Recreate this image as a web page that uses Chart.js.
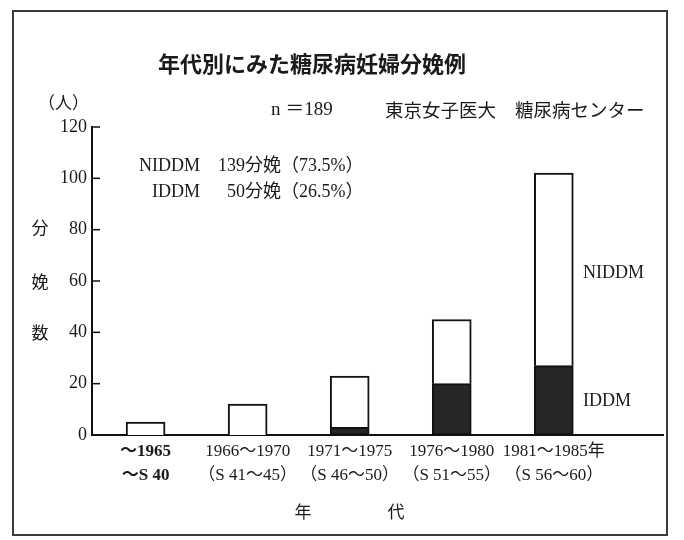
<!DOCTYPE html>
<html><head><meta charset="utf-8">
<script src="https://cdn.jsdelivr.net/npm/chart.js@4.4.0/dist/chart.umd.min.js"></script>
<style>html,body{margin:0;padding:0;background:#fff}#wrap{width:684px;height:540px;position:relative}</style>
</head><body><div id="wrap"><canvas id="c" width="684" height="540"></canvas></div>
<script>
// ---- data ----
const categories = ['～1965', '1966～1970', '1971～1975', '1976～1980', '1981～1985年'];
const eraLabels = ['～S 40', '（S 41～45）', '（S 46～50）', '（S 51～55）', '（S 56～60）'];
const iddm = [0, 0, 3, 20, 27];
const niddm = [5, 12, 20, 25, 75];
const yTickValues = [0, 20, 40, 60, 80, 100, 120];

const SERIF = "'Liberation Serif','Noto Sans CJK JP',serif";
const CJK = "'Noto Sans CJK JP',sans-serif";
const INK = '#1a1a1a';

const deco = {
  id: 'deco',
  beforeDraw(chart) {
    const c = chart.ctx;
    c.save();
    c.fillStyle = '#fff';
    c.fillRect(0, 0, chart.width, chart.height);
    c.strokeStyle = '#3a3a3a';
    c.lineWidth = 2;
    c.strokeRect(13, 11, 654, 524);
    c.restore();
  },
  afterDraw(chart) {
    const c = chart.ctx, ys = chart.scales.y;
    c.save();
    c.strokeStyle = '#111';
    c.lineWidth = 1.5;
    yTickValues.forEach(v => {
      if (v === 0) return;
      const py = ys.getPixelForValue(v);
      c.beginPath(); c.moveTo(ys.right, py); c.lineTo(ys.right + 8, py); c.stroke();
    });
    c.fillStyle = INK;
    c.textBaseline = 'middle';
    // title
    c.textAlign = 'center';
    c.font = "bold 22px " + CJK;
    c.fillText('年代別にみた糖尿病妊婦分娩例', 312, 64);
    // unit
    c.textAlign = 'left';
    c.font = "17px " + SERIF;
    c.fillText('（人）', 38, 105);
    c.font = "19px " + SERIF;
    c.fillText('n ＝189', 271, 110);
    c.font = "18.5px " + CJK;
    c.fillText('東京女子医大', 385, 110);
    c.fillText('糖尿病センター', 515, 110);
    // summary
    c.font = "18px " + SERIF;
    c.textAlign = 'right';
    c.fillText('NIDDM', 200, 166);
    c.fillText('IDDM', 200, 192);
    c.fillText('139', 245, 166);
    c.fillText('50', 245, 192);
    c.textAlign = 'left';
    c.fillText('分娩（73.5%）', 245, 166);
    c.fillText('分娩（26.5%）', 245, 192);
    // series labels
    c.fillText('NIDDM', 583, 273);
    c.fillText('IDDM', 583, 401);
    // y axis title
    c.textAlign = 'center';
    c.font = "17px " + CJK;
    c.fillText('分', 40, 228);
    c.fillText('娩', 40, 282);
    c.fillText('数', 40, 333);
    // x axis title
    c.fillText('年', 303, 512);
    c.fillText('代', 396, 512);
    c.restore();
  }
};

new Chart(document.getElementById('c'), {
  type: 'bar',
  data: {
    datasets: [
      {
        label: 'IDDM',
        data: iddm.map((v, i) => ({ x: i, y: v })),
        backgroundColor: '#262626',
        borderColor: '#111',
        borderWidth: 2,
        borderSkipped: false,
        barThickness: 39
      },
      {
        label: 'NIDDM',
        data: niddm.map((v, i) => ({ x: i, y: v })),
        backgroundColor: '#ffffff',
        borderColor: '#111',
        borderWidth: 2,
        borderSkipped: 'start',
        barThickness: 39
      }
    ]
  },
  options: {
    responsive: false,
    animation: false,
    devicePixelRatio: 1,
    layout: { padding: { top: 127, right: 21, left: 0, bottom: 40 } },
    plugins: { legend: { display: false }, tooltip: { enabled: false }, title: { display: false } },
    scales: {
      x: {
        type: 'linear',
        stacked: true,
        offset: false,
        min: -0.525,
        max: 5.07,
        afterBuildTicks: s => { s.ticks = categories.map((_, i) => ({ value: i })); },
        afterFit: s => { s.height = 65; },
        grid: { display: false, drawTicks: false, offset: false },
        border: { display: true, color: '#111', width: 2 },
        ticks: {
          autoSkip: false,
          maxRotation: 0,
          padding: 4,
          color: INK,
          callback: (v) => [categories[v], eraLabels[v]],
          font: (ctx) => ({ family: SERIF, size: 17, lineHeight: 1.45, weight: ctx.index === 0 ? 'bold' : 'normal' })
        }
      },
      y: {
        stacked: true,
        min: 0,
        max: 120,
        afterBuildTicks: s => { s.ticks = yTickValues.map(v => ({ value: v })); },
        afterFit: s => { s.width = 92; },
        grid: { display: false, drawTicks: false },
        border: { display: true, color: '#111', width: 2 },
        ticks: { padding: 5, color: INK, font: { family: SERIF, size: 18 } }
      }
    }
  },
  plugins: [deco]
});
</script>
</body></html>
